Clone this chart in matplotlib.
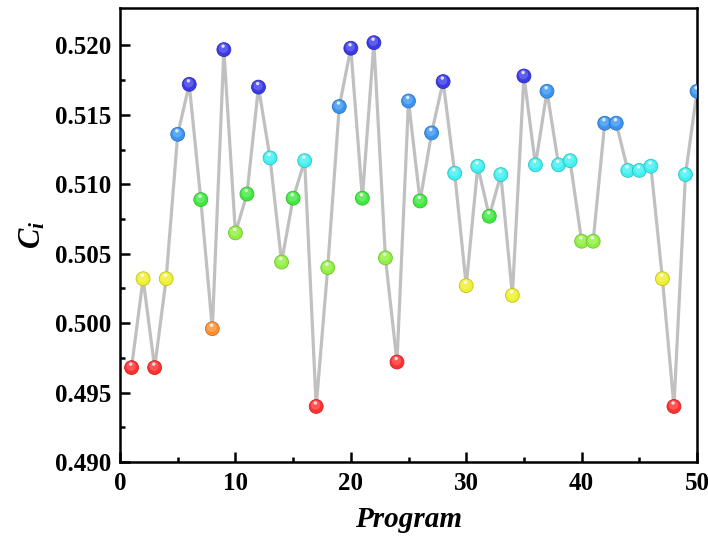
import numpy as np
import matplotlib
matplotlib.use("Agg")
import matplotlib.pyplot as plt
import matplotlib.colors as mcolors
from matplotlib.transforms import offset_copy

plt.rcParams['font.family'] = 'Liberation Serif'
plt.rcParams['font.weight'] = 'bold'
plt.rcParams['mathtext.fontset'] = 'custom'
plt.rcParams['mathtext.it'] = 'Liberation Serif:italic:bold'
plt.rcParams['mathtext.rm'] = 'Liberation Serif:bold'

# data
program = list(range(1, 51))
c_values = [0.4968, 0.5032, 0.4968, 0.5032, 0.5136, 0.5172, 0.5089, 0.4996, 0.5197, 0.5065,
            0.5093, 0.5170, 0.5119, 0.5044, 0.5090, 0.5117, 0.4940, 0.5040, 0.5156, 0.5198,
            0.5090, 0.5202, 0.5047, 0.4972, 0.5160, 0.5088, 0.5137, 0.5174, 0.5108, 0.5027,
            0.5113, 0.5077, 0.5107, 0.5020, 0.5178, 0.5114, 0.5167, 0.5114, 0.5117, 0.5059,
            0.5059, 0.5144, 0.5144, 0.5110, 0.5110, 0.5113, 0.5032, 0.4940, 0.5107, 0.5167]

# colour classes by value
edges = [0.4985, 0.5010, 0.5036, 0.5072, 0.5102, 0.5130, 0.5168]
palette = ['#ff3030', '#ff9030', '#f0f030', '#90f040', '#40e840', '#40f0f0', '#3a94f0', '#3a3ae8']

vals = np.array(c_values)
cols = [palette[i] for i in np.digitize(vals, edges)]

fig = plt.figure(figsize=(7.08, 5.49), dpi=100)
ax = fig.add_axes([0.1695, 0.1585, 0.815, 0.827])

ax.plot(program, c_values, color='#c0c0c0', lw=2.3, zorder=2, solid_joinstyle='miter')

# shaded "sphere" markers
base = np.array([mcolors.to_rgb(c) for c in cols])
edge = base * 0.8
light = base + (1 - base) * 0.35
ax.scatter(program, c_values, s=100, c=base, edgecolors=edge, linewidths=0.6, zorder=3)
t1 = offset_copy(ax.transData, fig=fig, x=-0.4, y=1.0, units='points')
ax.scatter(program, c_values, s=45, c=light, edgecolors='none', alpha=0.55, zorder=4, transform=t1)
t2 = offset_copy(ax.transData, fig=fig, x=-0.6, y=2.5, units='points')
ax.scatter(program, c_values, s=6, c='white', edgecolors='none', alpha=0.8, zorder=5, transform=t2)

ax.set_xlim(0, 50)
ax.set_ylim(0.490, 0.5227)
ax.set_xticks(range(0, 51, 10))
ax.set_xticks(range(5, 50, 10), minor=True)
ax.set_yticks(np.arange(0.490, 0.5201, 0.005))
ax.set_yticks(np.arange(0.4925, 0.521, 0.005), minor=True)
ax.set_yticklabels(['%.3f' % v for v in np.arange(0.490, 0.5201, 0.005)])

ax.tick_params(which='both', direction='in', width=1.8, labelsize=18, top=False, right=False)
ax.tick_params(which='major', length=7)
ax.tick_params(which='minor', length=3.6)
ax.tick_params(axis='x', pad=7)
ax.tick_params(axis='y', pad=6)
for s in ax.spines.values():
    s.set_linewidth(1.8)

ax.set_xlabel('Program', fontsize=21, fontweight='bold', style='italic', labelpad=8)
ax.set_ylabel(r'$C_i$', fontsize=22, labelpad=6)

fig.savefig('out.png', dpi=100)
